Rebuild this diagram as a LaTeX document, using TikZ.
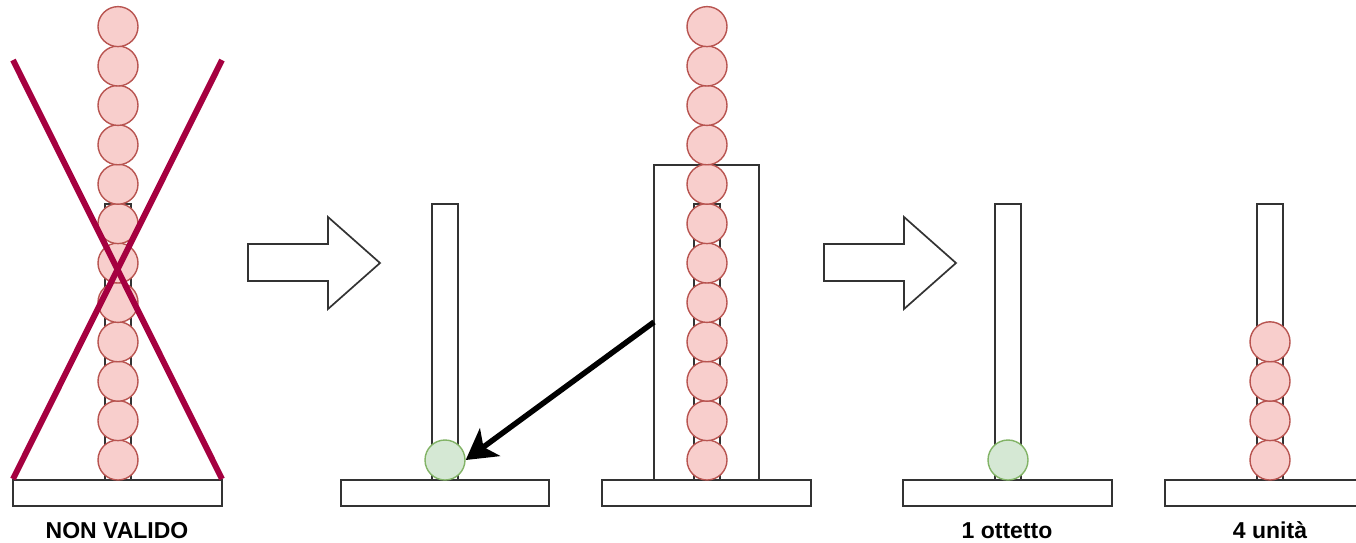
\documentclass[tikz,border=0pt]{standalone}
\usepackage{fontspec}
\setmainfont{Liberation Sans}
\usetikzlibrary{arrows.meta,positioning}

\definecolor{ballred}{HTML}{F8CECC}
\definecolor{ballredline}{HTML}{B85450}
\definecolor{ballgreen}{HTML}{D5E8D4}
\definecolor{ballgreenline}{HTML}{82B366}
\definecolor{crossred}{HTML}{A50040}
\definecolor{edgegray}{HTML}{333333}

\tikzset{
  ball/.style={circle, draw=ballredline, fill=ballred, line width=1.4pt, minimum size=40pt, inner sep=0pt},
  greenball/.style={ball, draw=ballgreenline, fill=ballgreen},
  plank/.style={draw=edgegray, line width=1.7pt, fill=white},
  caption/.style={font=\bfseries\fontsize{23}{27}\selectfont, anchor=base},
}

\begin{document}
\begin{tikzpicture}[x=1pt, y=-1pt]
\useasboundingbox (0,0) rectangle (1356,542);
\clip (0,0) rectangle (1356,542);

% invalid stack
\draw[plank] (13,480) rectangle (222,506);
\draw[plank] (105,204) rectangle (131,480);
\foreach \k in {0,...,11}
  \node[ball] (a\k) at (118,460-39.4*\k) {};
\draw[crossred, line width=6pt] (13,60) -- (222,479);
\draw[crossred, line width=6pt] (222,60) -- (13,479);
\node[caption] (lab1) at (117,538) {NON VALIDO};

% block arrows
\foreach \dx in {0,576}
  \draw[plank] (248+\dx,244) -- (328+\dx,244) -- (328+\dx,217) -- (380+\dx,263)
    -- (328+\dx,309) -- (328+\dx,281) -- (248+\dx,281) -- cycle;

% one ball taken out
\draw[plank] (341,480) rectangle (549,506);
\draw[plank] (432,204) rectangle (458,480);
\node[greenball] (g1) at (445,460) {};

\draw[plank] (602,480) rectangle (811,506);
\draw[plank] (694,204) rectangle (720,480);
\draw[draw=edgegray, line width=1.7pt] (654,165) rectangle (759,480);
\foreach \k in {0,...,11}
  \node[ball] (b\k) at (707,460-39.4*\k) {};
\coordinate (src) at (654,322);
\draw[line width=5.5pt, -{Stealth[length=30pt, width=34pt, inset=8pt]}] (src) -- (g1.east);

% result
\draw[plank] (903,480) rectangle (1112,506);
\draw[plank] (995,204) rectangle (1021,480);
\node[greenball] (g2) at (1008,460) {};
\node[caption] (lab2) at (1007,538) {1 ottetto};

\draw[plank] (1165,480) rectangle (1374,506);
\draw[plank] (1257,204) rectangle (1283,480);
\foreach \k in {0,...,3}
  \node[ball] (c\k) at (1270,460-39.4*\k) {};
\node[caption] (lab3) at (1270,538) {4 unità};

\end{tikzpicture}
\end{document}
